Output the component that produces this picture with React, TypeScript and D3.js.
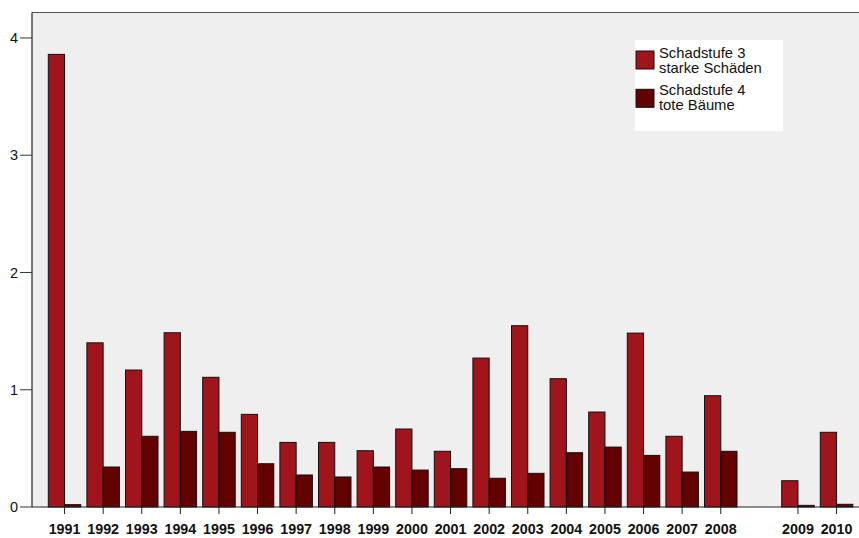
import React from "react";
import * as d3 from "d3";

const years = ["1991","1992","1993","1994","1995","1996","1997","1998","1999","2000","2001","2002","2003","2004","2005","2006","2007","2008","","2009","2010"];
const stufe3 = [3.86,1.40,1.168,1.486,1.106,0.79,0.551,0.551,0.48,0.665,0.475,1.27,1.546,1.094,0.81,1.483,0.603,0.949,null,0.224,0.637];
const stufe4 = [0.02,0.341,0.603,0.645,0.637,0.369,0.273,0.256,0.341,0.315,0.327,0.245,0.287,0.463,0.511,0.44,0.298,0.475,null,0.014,0.023];
const yTicks = [0,1,2,3,4];
const seriesNames = [["Schadstufe 3","starke Schäden"],["Schadstufe 4","tote Bäume"]];
const colors = ["#A0151C","#630000"];

const W = 859, H = 538;
const plotL = 32, plotT = 12.5, plotR = 859, plotB = 507;

export default function App() {
  const step = 38.6;
  const x = d3.scaleBand<string>()
    .domain(years.map((y, i) => y || `gap${i}`))
    .range([45.25, 45.25 + step * years.length])
    .paddingInner(0.158)
    .paddingOuter(0.079);
  const y = d3.scaleLinear().domain([0, 4.217]).range([plotB, plotT]);
  const bw = x.bandwidth() / 2;
  const series = [stufe3, stufe4];
  const font = "'Liberation Sans', Arial, sans-serif";

  return (
    <svg width={W} height={H} style={{ position: "absolute", left: 0, top: 0, background: "#fff" }} fontFamily={font}>
      <rect x={plotL} y={plotT} width={plotR - plotL} height={plotB - plotT} fill="#EFEFEF" />
      <line x1={plotL} x2={plotR} y1={plotT} y2={plotT} stroke="#555" strokeWidth={1.2} />
      {years.map((yr, i) => {
        const key = yr || `gap${i}`;
        const x0 = x(key)!;
        return series.map((s, j) => {
          const v = s[i];
          if (v == null) return null;
          return (
            <rect key={key + j} x={x0 + j * bw} y={y(v)} width={bw} height={plotB - y(v)}
              fill={colors[j]} stroke="#111" strokeWidth={1} />
          );
        });
      })}
      <line x1={plotL} x2={plotR} y1={plotB} y2={plotB} stroke="#222" strokeWidth={1} />
      <line x1={plotL} x2={plotL} y1={plotT} y2={plotB} stroke="#222" strokeWidth={1.2} />
      {yTicks.map(t => (
        <g key={t}>
          <line x1={20} x2={plotL} y1={y(t)} y2={y(t)} stroke="#333" strokeWidth={1} />
          <text x={18} y={y(t)} dy="0.36em" textAnchor="end" fontSize={14.5} fill="#111">{t}</text>
        </g>
      ))}
      {years.map((yr, i) => {
        if (!yr) return null;
        const cx = x(yr)! + x.bandwidth() / 2;
        return (
          <g key={yr}>
            <line x1={cx} x2={cx} y1={plotB} y2={plotB + 7} stroke="#222" strokeWidth={1} />
            <text x={cx} y={534} textAnchor="middle" fontSize={14.3} fontWeight="bold" fill="#111">{yr}</text>
          </g>
        );
      })}
      <rect x={635} y={40} width={148} height={91} fill="#fff" />
      {seriesNames.map((names, j) => (
        <g key={j}>
          <rect x={636} y={51 + j * 38.3} width={18} height={18} fill={colors[j]} stroke="#111" strokeWidth={1} />
          <text x={659} y={58 + j * 37} fontSize={14.8} fill="#111">{names[0]}</text>
          <text x={659} y={73 + j * 37} fontSize={14.8} fill="#111">{names[1]}</text>
        </g>
      ))}
    </svg>
  );
}
